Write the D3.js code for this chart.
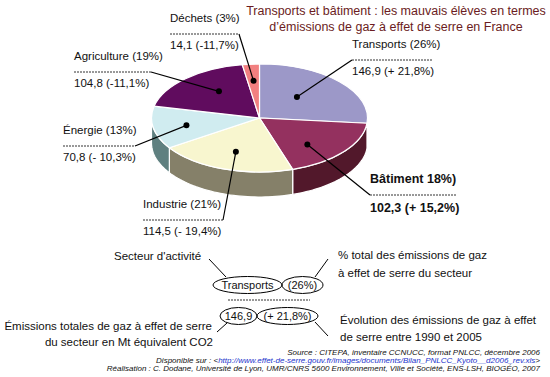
<!DOCTYPE html>
<html>
<head>
<meta charset="utf-8">
<script src="https://cdn.jsdelivr.net/npm/d3@7"></script>
<style>
  body { margin: 0; background: #fff; }
  svg { display: block; font-family: "Liberation Sans", Arial, sans-serif; }
</style>
</head>
<body>
<svg id="chart" width="550" height="377"></svg>
<script>
// data
var sectors = ["Transports", "Bâtiment", "Industrie", "Énergie", "Agriculture", "Déchets"];
var sectorLabels = ["Transports (26%)", "Bâtiment 18%)", "Industrie (21%)", "Énergie (13%)", "Agriculture (19%)", "Déchets (3%)"];
var emissions = [146.9, 102.3, 114.5, 70.8, 104.8, 14.1];
var evolution = ["+ 21,8%", "+ 15,2%", "- 19,4%", "- 10,3%", "-11,1%", "-11,7%"];

// styles
var topColors = ["#9c98c8", "#94315f", "#f8f6cf", "#d0ecf0", "#600c5e", "#f28080"];
var sideColors = ["#6e6a98", "#52182b", "#858069", "#5f8080", "#3e0a3c", "#a85555"];

// label layout: text x, first baseline, dashed line length, which end hooks to the dot
var labelPos = [
    {x: 352, y: 48, w: 80, hook: "left", r: 0.52, da: -6},
    {x: 370, y: 183, w: 87, hook: "left", r: 0.66, da: 9, bold: true},
    {x: 143, y: 208, w: 80, hook: "right", r: 0.66, da: 0},
    {x: 63, y: 134, w: 72, hook: "right", r: 0.69, da: -1},
    {x: 74, y: 60, w: 77, hook: "right", r: 0.62, da: 6},
    {x: 170, y: 22, w: 69, hook: "right", r: 0.69, da: 0}
];

var svg = d3.select("#chart");
var cx = 259.5, cy = 118, rx = 108, ry = 54, depth = 25;
var fmt = function (v) { return d3.format(".1f")(v).replace(".", ","); };

function pt(a, dy) {
    return [cx + rx * Math.sin(a), cy - ry * Math.cos(a) + (dy || 0)];
}

var arcs = d3.pie().sort(null).value(function (d) { return d; })(emissions);

// side walls (front half only)
var side = svg.append("g").attr("class", "sides");
arcs.forEach(function (d, i) {
    var a0 = Math.max(d.startAngle, Math.PI / 2), a1 = Math.min(d.endAngle, 3 * Math.PI / 2);
    if (a1 <= a0) { return; }
    var n = 40, top = [], bot = [];
    for (var k = 0; k <= n; k++) {
        var a = a0 + (a1 - a0) * k / n;
        top.push(pt(a));
        bot.push(pt(a, depth));
    }
    side.append("path")
        .attr("d", d3.line()(top.concat(bot.reverse())) + "Z")
        .attr("fill", sideColors[i])
        .attr("stroke", "#fff")
        .attr("stroke-width", 1.2);
});

// top faces
var arc = d3.arc().innerRadius(0).outerRadius(rx);
svg.append("g")
    .attr("transform", "translate(" + cx + "," + cy + ") scale(1," + (ry / rx) + ")")
    .selectAll("path")
    .data(arcs)
    .enter().append("path")
    .attr("d", arc)
    .attr("fill", function (d, i) { return topColors[i]; })
    .attr("stroke", "#fff")
    .attr("stroke-width", 1.2)
    .attr("vector-effect", "non-scaling-stroke");

// title
var title = svg.append("text")
    .attr("x", 396).attr("y", 15)
    .attr("text-anchor", "middle")
    .attr("fill", "#6b1c22")
    .style("font-size", "12.5px");
title.append("tspan").attr("x", 396).text("Transports et bâtiment : les mauvais élèves en termes");
title.append("tspan").attr("x", 396).attr("dy", 16).text("d’émissions de gaz à effet de serre en France");

// labels
var lab = svg.append("g").attr("class", "labels");
arcs.forEach(function (d, i) {
    var p = labelPos[i],
        mid = (d.startAngle + d.endAngle) / 2 + p.da * Math.PI / 180,
        dot = [cx + rx * p.r * Math.sin(mid), cy - ry * p.r * Math.cos(mid)],
        lineY = p.y + 12,
        hx = p.hook === "left" ? p.x : p.x + p.w,
        fs = p.bold ? "12.5px" : "11.5px";
    lab.append("text").attr("x", p.x).attr("y", p.y)
        .style("font-size", fs).style("font-weight", p.bold ? "bold" : null)
        .attr("fill", "#111").text(sectorLabels[i]);
    lab.append("line")
        .attr("x1", p.x).attr("x2", p.x + p.w).attr("y1", lineY).attr("y2", lineY)
        .attr("stroke", "#333").attr("stroke-width", 1).attr("stroke-dasharray", "2,1");
    lab.append("text").attr("x", p.x).attr("y", p.y + (p.bold ? 29 : 27))
        .style("font-size", fs).style("font-weight", p.bold ? "bold" : null)
        .attr("fill", "#111").text(fmt(emissions[i]) + " (" + evolution[i] + ")");
    lab.append("line")
        .attr("x1", hx).attr("y1", lineY).attr("x2", dot[0]).attr("y2", dot[1])
        .attr("stroke", "#000").attr("stroke-width", 1.2);
    lab.append("circle").attr("cx", dot[0]).attr("cy", dot[1]).attr("r", 3).attr("fill", "#000");
});

// reading key
var key = svg.append("g").attr("class", "key").style("font-size", "11.5px").attr("fill", "#111");
function stroke(x1, y1, x2, y2) {
    key.append("line").attr("x1", x1).attr("y1", y1).attr("x2", x2).attr("y2", y2)
        .attr("stroke", "#000").attr("stroke-width", 1);
}
key.append("text").attr("x", 114).attr("y", 260).text("Secteur d'activité");
stroke(209, 259, 226, 277);
key.append("text").attr("x", 338).attr("y", 259).text("% total des émissions de gaz");
key.append("text").attr("x", 338).attr("y", 277).text("à effet de serre du secteur");
stroke(328, 259, 315, 277);
key.append("text").attr("x", 340).attr("y", 324).text("Évolution des émissions de gaz à effet");
key.append("text").attr("x", 340).attr("y", 341).text("de serre entre 1990 et 2005");
stroke(315, 322, 328, 336);
key.append("text").attr("x", 212).attr("y", 330).attr("text-anchor", "end").text("Émissions totales de gaz à effet de serre");
key.append("text").attr("x", 213).attr("y", 346).attr("text-anchor", "end").text("du secteur en Mt équivalent CO2");
stroke(217, 332, 227, 323);
key.append("line").attr("x1", 228).attr("x2", 310).attr("y1", 300).attr("y2", 300)
    .attr("stroke", "#333").attr("stroke-dasharray", "2,1");

var bubbles = [
    {t: sectors[0], x: 247.5, y: 285, rx: 34.5},
    {t: "(26%)", x: 302.5, y: 285, rx: 20.5},
    {t: fmt(emissions[0]), x: 238.5, y: 316, rx: 18.5},
    {t: "(" + evolution[0] + ")", x: 287.5, y: 316, rx: 30.5}
];
bubbles.forEach(function (b) {
    key.append("ellipse").attr("cx", b.x).attr("cy", b.y).attr("rx", b.rx).attr("ry", 8.5)
        .attr("fill", "none").attr("stroke", "#000").attr("stroke-width", 1);
    key.append("text").attr("x", b.x).attr("y", b.y + 4).attr("text-anchor", "middle")
        .style("font-size", "11px")
        .text(b.t);
});

// sources
var foot = svg.append("g").style("font-size", "8px").style("font-style", "italic").attr("fill", "#111");
foot.append("text").attr("x", 540).attr("y", 355).attr("text-anchor", "end")
    .text("Source : CITEPA, inventaire CCNUCC, format PNLCC, décembre 2006");
var disp = foot.append("text").attr("x", 540).attr("y", 363).attr("text-anchor", "end");
disp.append("tspan").text("Disponible sur : <");
disp.append("tspan").attr("fill", "#2233cc").text("http://www.effet-de-serre.gouv.fr/images/documents/Bilan_PNLCC_Kyoto__d2006_rev.xls");
disp.append("tspan").text(">");
foot.append("text").attr("x", 540).attr("y", 371).attr("text-anchor", "end")
    .text("Réalisation : C. Dodane, Université de Lyon, UMR/CNRS 5600 Environnement, Ville et Société, ENS-LSH, BIOGÉO, 2007");
</script>
</body>
</html>
